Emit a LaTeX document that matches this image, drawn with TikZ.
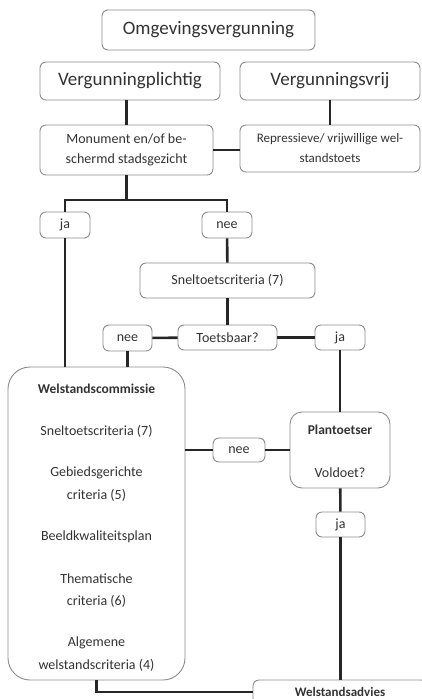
\documentclass[tikz,border=0pt]{standalone}
\usepackage{fontspec}
\setmainfont{Carlito}

\tikzset{
  vak/.style={draw=black!45, line width=0.9pt, rounded corners=6pt, fill=white, text=black!80, align=center, inner sep=2pt, font=\fontsize{14}{20}\selectfont},
  groot/.style={vak, font=\fontsize{19}{22}\selectfont},
  lijn/.style={line width=2.6pt, black!85},
  tekst/.style={text=black!80, font=\fontsize{14}{20}\selectfont, inner sep=0pt}
}

\begin{document}
\begin{tikzpicture}[x=1pt,y=-1pt]
\clip (0,0) rectangle (422,699);

\node[groot, minimum width=213, minimum height=40] (omg) at (208.5,30) {Omgevingsvergunning};
\node[groot, minimum width=180, minimum height=38] (plicht) at (130,81) {Vergunningplichtig};
\node[groot, minimum width=180, minimum height=38] (vrij) at (330,81) {Vergunningsvrij};

\node[vak, minimum width=173, minimum height=50] (mon) at (126.5,150) {Monument en/of be-\\schermd stadsgezicht};
\node[vak, minimum width=180, minimum height=47, font=\fontsize{13}{20}\selectfont] (rep) at (330,148.5) {Repressieve/ vrijwillige wel-\\standstoets};

\node[vak, minimum width=50, minimum height=26] (ja1) at (65,225) {ja};
\node[vak, minimum width=50, minimum height=26] (nee1) at (227,225) {nee};
\node[vak, minimum width=175, minimum height=35] (snel) at (227.5,280.5) {Sneltoetscriteria (7)};
\node[vak, minimum width=99, minimum height=25] (toets) at (227.5,337.5) {Toetsbaar?};
\node[vak, minimum width=49, minimum height=26] (nee2) at (127.5,338) {nee};
\node[vak, minimum width=50, minimum height=25] (ja2) at (340,337.5) {ja};

% welstandscommissie
\node[vak, rounded corners=22pt, minimum width=177, minimum height=313] (wc) at (96.5,523.5) {};
\node[tekst, font=\fontsize{13.5}{20}\selectfont\bfseries] (wc-kop) at (96.5,389) {Welstandscommissie};
\foreach \y/\t in {431/Sneltoetscriteria (7), 473/Gebiedsgerichte, 495/criteria (5), 537/Beeldkwaliteitsplan, 579/Thematische, 601/criteria (6), 643/Algemene, 665/welstandscriteria (4)}{
  \node[tekst] (wc-\y) at (96.5,\y) {\t};
}

\node[vak, rounded corners=12pt, minimum width=100, minimum height=76] (plan) at (340,450) {};
\node[tekst, font=\fontsize{13.5}{20}\selectfont\bfseries] (plan-kop) at (340,430) {Plantoetser};
\node[tekst] (plan-vraag) at (340,473) {Voldoet?};

\node[vak, minimum width=52, minimum height=24] (nee3) at (239,450) {nee};
\node[vak, minimum width=49, minimum height=25] (ja3) at (340.5,524.5) {ja};
\node[vak, minimum width=174, minimum height=24, font=\fontsize{13}{20}\selectfont\bfseries] (advies) at (340,692) {Welstandsadvies};

\coordinate (split) at (126.5,200);

\draw[lijn] (mon.north) -- (mon.north |- plicht.south);
\draw[lijn] (vrij) -- (rep);
\draw[lijn] (mon.east) -- (rep.west |- mon.east);
\draw[lijn] (mon.south) -- (split);
\draw[lijn] (ja1) |- (split) -| (nee1);
\draw[lijn] (nee1) -- (snel);
\draw[lijn] (snel) -- (toets);
\draw[lijn] (toets) -- (nee2);
\draw[lijn] (toets) -- (ja2);
\draw[lijn] (ja1) -- (ja1 |- wc.north);
\draw[lijn] (nee2) -- (nee2 |- wc.north);
\draw[lijn] (ja2) -- (plan);
\draw[lijn] (wc.east |- nee3) -- (nee3);
\draw[lijn] (nee3) -- (plan);
\draw[lijn] (plan) -- (ja3);
\draw[lijn] (ja3) -- (ja3 |- advies.north);
\draw[lijn] (wc.south) |- (advies.west);
\end{tikzpicture}
\end{document}
